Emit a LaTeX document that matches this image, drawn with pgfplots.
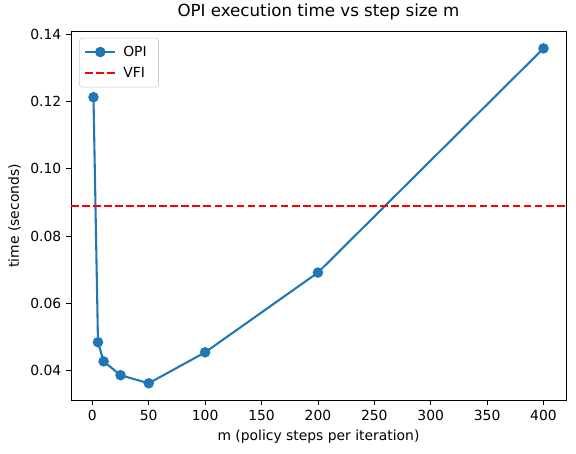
\documentclass[border=0pt]{standalone}
\usepackage{pgfplots}
\pgfplotsset{compat=1.18}
\usepackage{fontspec}
\setmainfont{DejaVu Sans}
\definecolor{mplblue}{HTML}{1F77B4}
\begin{document}
\begin{tikzpicture}[x=1pt,y=1pt]
\useasboundingbox (-51.1,-38.2) rectangle (363.6,288.0);
\begin{axis}[
  at={(0,0)}, anchor=south west,
  scale only axis, width=356.4pt, height=265.2pt,
  xmin=-18.95, xmax=419.95, ymin=0.03133, ymax=0.14077,
  xtick={0,50,...,400},
  ytick={0.04,0.06,...,0.141},
  yticklabel style={/pgf/number format/.cd,fixed,fixed zerofill,precision=2},
  /pgf/number format/assume math mode=true,
  tick align=outside, tick pos=left,
  major tick length=3.5pt,
  every tick/.style={black, line width=0.6pt},
  axis line style={line width=0.6pt},
  ticklabel style={font=\fontsize{10}{12}\selectfont},
  label style={font=\fontsize{10}{12}\selectfont},
  xlabel={m (policy steps per iteration)},
  ylabel={time (seconds)},
  title={OPI execution time vs step size m},
  title style={font=\fontsize{12}{14}\selectfont, yshift=-1pt},
  legend cell align=left,
  legend style={font=\fontsize{10}{12}\selectfont, draw=black!20, rounded corners=2pt,
    inner xsep=3.5pt, inner ysep=3.5pt, row sep=2.5pt,
    nodes={inner xsep=5pt},
    at={(0.0165,0.983)}, anchor=north west},
  legend image code/.code={%
    \draw[mark repeat=2,mark phase=2,#1] plot coordinates {(0pt,0pt) (10.8pt,0pt) (21.6pt,0pt)};},
]
\addplot[mplblue, line width=1.5pt, mark=*, mark size=3pt, mark options={solid, fill=mplblue, draw=mplblue}]
  coordinates {(1,0.1213) (5,0.0485) (10,0.0428) (25,0.0387) (50,0.0363) (100,0.0455) (200,0.0692) (400,0.1358)};
\addlegendentry{OPI}
\addplot[red, line width=1.5pt, dash pattern=on 5.55pt off 2.4pt]
  coordinates {(-18.95,0.0889) (419.95,0.0889)};
\addlegendentry{VFI}
\end{axis}
\end{tikzpicture}
\end{document}
